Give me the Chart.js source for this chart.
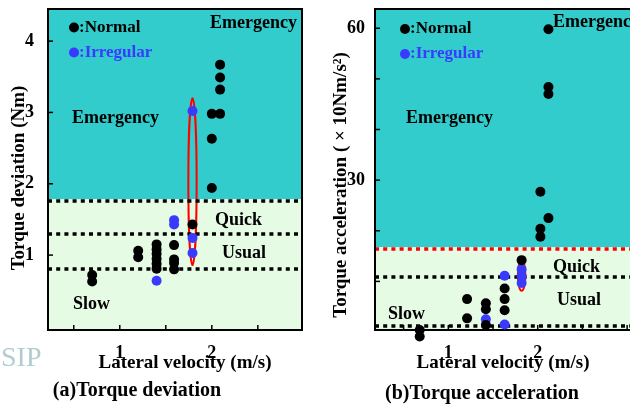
<!DOCTYPE html>
<html>
<head>
<meta charset="utf-8">
<script src="https://cdn.jsdelivr.net/npm/chart.js@4/dist/chart.umd.min.js"></script>
<style>
  html, body { margin: 0; padding: 0; background: #fff; overflow: hidden; }
  body { width: 630px; height: 406px; position: relative; }
  #devChart { position: absolute; left: 0; top: 0; }
  #accChart { position: absolute; left: 320px; top: 0; }
  #logo { position: absolute; left: 1px; top: 341px; font: 28px "Liberation Serif", serif; color: #9fbfc4; opacity: 0.8; }
</style>
</head>
<body>
<canvas id="devChart" width="320" height="406"></canvas>
<canvas id="accChart" width="330" height="406"></canvas>
<div id="logo">SIP</div>
<script>
// ==== Data: (a) Torque deviation ====
const devNormalX = [0.70, 0.70, 1.20, 1.20, 1.40, 1.40, 1.40, 1.40, 1.40, 1.40, 1.59, 1.59, 1.59, 1.59, 1.79, 2.00, 2.00, 2.00, 2.09, 2.09, 2.09, 2.09];
const devNormalY = [0.72, 0.63, 1.06, 0.97, 1.15, 1.08, 1.02, 0.95, 0.88, 0.81, 1.14, 0.94, 0.89, 0.80, 1.43, 2.98, 2.63, 1.94, 2.98, 3.32, 3.49, 3.67];
const devIrregX = [1.40, 1.59, 1.59, 1.79, 1.79, 1.79];
const devIrregY = [0.64, 1.49, 1.43, 1.24, 1.03, 3.02];
const devThresholds = [1.76, 1.29, 0.80];   // emergency / quick / usual borders
const devEllipse = { cx: 1.79, cy: 2.03, rx: 0.045, ry: 1.17 };

// ==== Data: (b) Torque acceleration ====
const accNormalX = [0.68, 0.68, 1.21, 1.21, 1.42, 1.42, 1.42, 1.63, 1.63, 1.63, 1.82, 2.03, 2.03, 2.03, 2.12, 2.12, 2.12, 2.12];
const accNormalY = [0.4, -0.9, 6.5, 2.7, 5.7, 4.5, 1.4, 8.6, 6.5, 4.3, 14.2, 27.7, 20.4, 18.8, 59.8, 48.4, 47.0, 22.5];
const accIrregX = [1.42, 1.63, 1.63, 1.82, 1.82, 1.82];
const accIrregY = [2.5, 11.1, 1.5, 12.4, 11.0, 9.7];
const accThresholds = [16.3, 10.8, 1.2];
const accEllipse = { cx: 1.82, cy: 11.2, rx: 0.042, ry: 3.05 };

const xTickLabels = [1, 2];
const devTickLabels = [1, 2, 3, 4];
const accTickLabels = [30, 60];

// ==== Styles ====
const TEAL = "#33cccc";
const PALE = "#e6fbe4";
const BLUE = "#3a3aff";
const SERIF = '"Liberation Serif", "Times New Roman", serif';
const DOT_R = 5;
const DASH_W = 3.5;

const toPoints = (xs, ys) => xs.map((x, i) => ({ x: x, y: ys[i] }));

// no extra room for edge labels, chart area is fixed by the layout padding
const noPad = s => { s.paddingTop = 0; s.paddingBottom = 0; s.paddingLeft = 0; s.paddingRight = 0; };

// background, threshold lines, ellipse, frame, inward ticks, texts
const panelDeco = {
  id: "panelDeco",
  beforeDatasetsDraw(chart) {
    const o = chart.options.plugins.panelDeco;
    const { ctx, chartArea: a, scales: { x, y } } = chart;
    const split = Math.round(y.getPixelForValue(o.thresholds[0])) - DASH_W / 2;
    ctx.save();
    ctx.fillStyle = TEAL;
    ctx.fillRect(a.left, a.top, a.right - a.left, split - a.top);
    ctx.fillStyle = PALE;
    ctx.fillRect(a.left, split, a.right - a.left, a.bottom - split);

    // ellipse
    const e = o.ellipse;
    ctx.beginPath();
    ctx.ellipse(x.getPixelForValue(e.cx), y.getPixelForValue(e.cy),
      Math.abs(x.getPixelForValue(e.cx + e.rx) - x.getPixelForValue(e.cx)),
      Math.abs(y.getPixelForValue(e.cy + e.ry) - y.getPixelForValue(e.cy)), 0, 0, Math.PI * 2);
    ctx.strokeStyle = "#ff0000";
    ctx.lineWidth = 2;
    ctx.stroke();

    // dotted thresholds
    ctx.lineWidth = DASH_W;
    ctx.setLineDash([4, 4.2]);
    o.thresholds.forEach((v, i) => {
      const py = Math.round(y.getPixelForValue(v));
      ctx.strokeStyle = (i === 0 && o.firstRed) ? "#ff0000" : "#000";
      ctx.beginPath();
      ctx.moveTo(a.left, py);
      ctx.lineTo(a.right, py);
      ctx.stroke();
    });
    ctx.setLineDash([]);

    // ticks pointing inward
    ctx.strokeStyle = "#000";
    ctx.lineWidth = 1.5;
    x.ticks.forEach(t => {
      const px = x.getPixelForValue(t.value);
      ctx.beginPath(); ctx.moveTo(px, a.bottom); ctx.lineTo(px, a.bottom - 5); ctx.stroke();
    });
    y.ticks.forEach(t => {
      const py = y.getPixelForValue(t.value);
      ctx.beginPath(); ctx.moveTo(a.left, py); ctx.lineTo(a.left + 5, py); ctx.stroke();
    });

    // frame
    ctx.lineWidth = 2;
    ctx.strokeRect(a.left, a.top, a.right - a.left, a.bottom - a.top);
    ctx.restore();
  },
  afterDatasetsDraw(chart) {
    const o = chart.options.plugins.panelDeco;
    const ctx = chart.ctx;
    const a = chart.chartArea;

    // points lying below the axis are skipped by Chart.js, draw them anyway
    const wide = { left: -1e4, top: -1e4, right: 1e4, bottom: 1e4 };
    chart.data.datasets.forEach((ds, di) => {
      chart.getDatasetMeta(di).data.forEach(pt => {
        if (pt.y > a.bottom + DOT_R) pt.draw(ctx, wide);
      });
    });

    ctx.save();
    ctx.textBaseline = "middle";
    ctx.textAlign = "left";
    ctx.font = "bold 18px " + SERIF;
    ctx.fillStyle = "#000";
    o.labels.forEach(l => ctx.fillText(l.text, l.x, l.y));

    // legend
    ctx.font = "bold 17px " + SERIF;
    o.legend.forEach(l => {
      ctx.fillStyle = l.color;
      ctx.beginPath();
      ctx.arc(l.x, l.y, DOT_R, 0, Math.PI * 2);
      ctx.fill();
      ctx.fillText(l.text, l.x + 5, l.y);
    });

    // axis titles and caption
    ctx.fillStyle = "#000";
    ctx.textAlign = "center";
    ctx.font = "bold 19px " + SERIF;
    ctx.fillText(o.xTitle.text, o.xTitle.x, o.xTitle.y);
    ctx.save();
    ctx.translate(o.yTitle.x, o.yTitle.y);
    ctx.rotate(-Math.PI / 2);
    ctx.fillText(o.yTitle.text, 0, 0);
    ctx.restore();
    ctx.font = "bold 20px " + SERIF;
    ctx.fillText(o.caption.text, o.caption.x, o.caption.y);
    ctx.restore();
  }
};

function makePanel(canvas, cfg) {
  return new Chart(canvas, {
    type: "scatter",
    data: {
      datasets: [
        { label: "Normal", data: toPoints(cfg.nx, cfg.ny), backgroundColor: "#000", borderWidth: 0, pointRadius: DOT_R, clip: false },
        { label: "Irregular", data: toPoints(cfg.ix, cfg.iy), backgroundColor: BLUE, borderWidth: 0, pointRadius: DOT_R, clip: false }
      ]
    },
    options: {
      responsive: false,
      animation: false,
      events: [],
      layout: { padding: { top: 9, right: cfg.padRight, left: 0, bottom: 0 } },
      scales: {
        x: {
          type: "linear",
          min: cfg.xMin, max: cfg.xMax,
          grid: { display: false },
          border: { display: false },
          afterFit: s => { s.height = 76; noPad(s); },
          ticks: {
            stepSize: 0.5, autoSkip: false, includeBounds: false, maxRotation: 0, padding: 5,
            color: "#000", font: { family: SERIF, size: 18, weight: "bold" },
            callback: v => xTickLabels.includes(v) ? String(v) : ""
          }
        },
        y: {
          type: "linear",
          min: cfg.yMin, max: cfg.yMax,
          grid: { display: false },
          border: { display: false },
          afterFit: s => { s.width = cfg.yWidth; noPad(s); },
          afterBuildTicks: s => { s.ticks = s.ticks.filter(t => t.value > 0); },
          ticks: {
            stepSize: cfg.yStep, autoSkip: false, includeBounds: false, padding: cfg.yPad,
            color: "#000", font: { family: SERIF, size: 18, weight: "bold" },
            callback: v => cfg.yLabels.includes(v) ? String(v) : ""
          }
        }
      },
      plugins: {
        legend: { display: false },
        tooltip: { enabled: false },
        panelDeco: cfg.deco
      }
    },
    plugins: [panelDeco]
  });
}

makePanel(document.getElementById("devChart"), {
  nx: devNormalX, ny: devNormalY, ix: devIrregX, iy: devIrregY,
  xMin: 0.22, xMax: 2.98, yMin: -0.05, yMax: 4.45, yStep: 1, yLabels: devTickLabels,
  yWidth: 48, yPad: 6, padRight: 18,
  deco: {
    thresholds: devThresholds, firstRed: false, ellipse: devEllipse,
    labels: [
      { text: "Emergency", x: 72, y: 118 },
      { text: "Emergency", x: 210, y: 23 },
      { text: "Quick", x: 215, y: 220 },
      { text: "Usual", x: 222, y: 253 },
      { text: "Slow", x: 73, y: 304 }
    ],
    legend: [
      { text: ":Normal", x: 74, y: 27.5, color: "#000" },
      { text: ":Irregular", x: 74, y: 52.5, color: BLUE }
    ],
    xTitle: { text: "Lateral velocity (m/s)", x: 185, y: 363 },
    yTitle: { text: "Torque deviation (Nm)", x: 19, y: 178 },
    caption: { text: "(a)Torque deviation", x: 137, y: 391 }
  }
});

makePanel(document.getElementById("accChart"), {
  nx: accNormalX, ny: accNormalY, ix: accIrregX, iy: accIrregY,
  xMin: 0.18, xMax: 3.2, yMin: 0.4, yMax: 63.8, yStep: 10, yLabels: accTickLabels,
  yWidth: 55, yPad: 2, padRight: 1,
  deco: {
    thresholds: accThresholds, firstRed: true, ellipse: accEllipse,
    labels: [
      { text: "Emergency", x: 86, y: 118 },
      { text: "Emergency", x: 233, y: 22 },
      { text: "Quick", x: 233, y: 267 },
      { text: "Usual", x: 237, y: 300 },
      { text: "Slow", x: 68, y: 314 }
    ],
    legend: [
      { text: ":Normal", x: 85, y: 29, color: "#000" },
      { text: ":Irregular", x: 85, y: 54, color: BLUE }
    ],
    xTitle: { text: "Lateral velocity (m/s)", x: 183, y: 363 },
    yTitle: { text: "Torque acceleration ( × 10Nm/s²)", x: 21, y: 185 },
    caption: { text: "(b)Torque acceleration", x: 162, y: 394 }
  }
});
</script>
</body>
</html>
